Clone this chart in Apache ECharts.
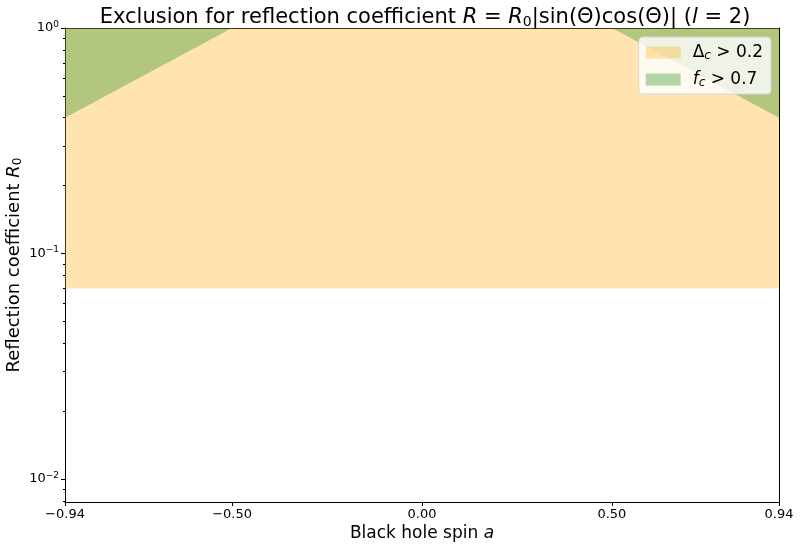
<!DOCTYPE html>
<html>
<head>
<meta charset="utf-8">
<script src="https://cdn.jsdelivr.net/npm/echarts@6/dist/echarts.min.js"></script>
<style>
  html, body { margin: 0; padding: 0; background: #fff; }
  #chart { width: 801px; height: 548px; }
</style>
</head>
<body>
<div id="chart"></div>
<script>
// axis ranges and ticks
const spinMin = -0.94;
const spinMax = 0.94;
const r0Min = 0.0079;
const r0Max = 1;
const spinTicks = [-0.94, -0.5, 0, 0.5, 0.94];
const r0MajorTicks = [0.01, 0.1, 1];
const r0MinorTicks = [0.008, 0.009, 0.02, 0.03, 0.04, 0.05, 0.06, 0.07, 0.08, 0.09,
  0.2, 0.3, 0.4, 0.5, 0.6, 0.7, 0.8, 0.9];
const r0TickLabels = { '0.01': '10{sup|−2}', '0.1': '10{sup|−1}', '1': '10{sup|0}' };

// excluded regions (lower boundary, filled up to R0 = 1)
const deltaSpin = [-0.94, 0.94];
const deltaR0 = [0.07, 0.07];
const fcSpin = [-0.94, -0.5, 0.5, 0.94];
const fcR0 = [0.4, 1, 1, 0.4];

const orange = 'rgba(255,165,0,0.3)';
const green = 'rgba(0,128,0,0.3)';
const font = 'DejaVu Sans';

const chart = echarts.init(document.getElementById('chart'));

const fmtSpin = v => (Math.abs(v) < 1e-9 ? '0.00' : v.toFixed(2)).replace('-', '\u2212');

const option = {
  animation: false,
  textStyle: { fontFamily: font },
  title: {
    text: 'Exclusion for reflection coefficient {i|R} = {i|R}{sub|0}|sin(Θ)cos(Θ)| ({i|l} = 2)',
    left: 420,
    textAlign: 'center',
    top: 1,
    textStyle: {
      fontFamily: font,
      fontSize: 21,
      fontWeight: 'normal',
      color: '#000',
      rich: {
        i: { fontFamily: font, fontSize: 21, fontStyle: 'italic', color: '#000' },
        sub: { fontFamily: font, fontSize: 14, color: '#000', padding: [9, 0, 0, 0] }
      }
    }
  },
  legend: {
    right: 30,
    top: 37,
    orient: 'vertical',
    itemWidth: 35,
    itemHeight: 12,
    itemGap: 8,
    padding: [6, 8, 5, 7],
    backgroundColor: 'rgba(255,255,255,0.8)',
    borderColor: '#d6d6d6',
    borderWidth: 1,
    borderRadius: 4,
    textStyle: {
      fontFamily: font,
      fontSize: 17,
      lineHeight: 15,
      color: '#000',
      padding: [0, 0, 0, 7],
      rich: {
        i: { fontFamily: font, fontSize: 17, lineHeight: 15, fontStyle: 'italic', color: '#000' },
        sub: { fontFamily: font, fontSize: 12, lineHeight: 10, fontStyle: 'italic', color: '#000', padding: [7, 0, 0, 0] }
      }
    },
    formatter: name => name === 'delta' ? 'Δ{sub|c} > 0.2' : '{i|f}{sub|c} > 0.7',
    data: [
      { name: 'delta', icon: 'rect', itemStyle: { color: orange } },
      { name: 'fc', icon: 'rect', itemStyle: { color: green } }
    ]
  },
  grid: { left: 65, right: 22, top: 28, bottom: 46, outerBoundsMode: 'none', containLabel: false },
  xAxis: [
    {
      type: 'value',
      min: spinMin,
      max: spinMax,
      name: 'Black hole spin {i|a}',
      nameLocation: 'middle',
      nameGap: 23,
      nameMoveOverlap: false,
      nameTextStyle: {
        fontFamily: font, fontSize: 17, color: '#000',
        rich: { i: { fontFamily: font, fontSize: 17, fontStyle: 'italic', color: '#000' } }
      },
      splitLine: { show: false },
      axisLine: { onZero: false, lineStyle: { color: '#000', width: 1 } },
      axisTick: { length: 4, lineStyle: { color: '#000' }, customValues: spinTicks },
      axisLabel: {
        customValues: spinTicks,
        formatter: fmtSpin,
        fontFamily: font, fontSize: 13, color: '#000', margin: 6
      }
    },
    {
      type: 'value',
      position: 'top',
      min: spinMin,
      max: spinMax,
      splitLine: { show: false },
      axisLine: { show: true, onZero: false, lineStyle: { color: '#000', width: 1 } },
      axisTick: { show: false },
      axisLabel: { show: false }
    }
  ],
  yAxis: [
    {
      type: 'log',
      min: r0Min,
      max: r0Max,
      name: 'Reflection coefficient {i|R}{sub|0}',
      nameLocation: 'middle',
      nameGap: 41,
      nameMoveOverlap: false,
      nameTextStyle: {
        fontFamily: font, fontSize: 18, color: '#000',
        rich: {
          i: { fontFamily: font, fontSize: 18, fontStyle: 'italic', color: '#000' },
          sub: { fontFamily: font, fontSize: 12, color: '#000', padding: [8, 0, 0, 0] }
        }
      },
      splitLine: { show: false },
      axisLine: { show: true, onZero: false, lineStyle: { color: '#000', width: 1 } },
      axisTick: { length: 4, lineStyle: { color: '#000' }, customValues: r0MajorTicks },
      axisLabel: {
        customValues: r0MajorTicks,
        formatter: v => r0TickLabels[String(+v.toPrecision(3))] || '',
        fontFamily: font, fontSize: 13, color: '#000', margin: 6,
        rich: {
          sup: { fontFamily: font, fontSize: 9, color: '#000', padding: [0, 0, 7, 0] }
        }
      }
    },
    {
      type: 'log',
      min: r0Min,
      max: r0Max,
      position: 'left',
      splitLine: { show: false },
      axisLine: { show: false, onZero: false },
      axisTick: { show: true, length: 2, lineStyle: { color: '#000' }, customValues: r0MinorTicks },
      axisLabel: { show: false }
    },
    {
      type: 'log',
      min: r0Min,
      max: r0Max,
      position: 'right',
      splitLine: { show: false },
      axisLine: { show: true, onZero: false, lineStyle: { color: '#000', width: 1 } },
      axisTick: { show: false },
      axisLabel: { show: false }
    }
  ],
  series: [
    {
      name: 'delta',
      type: 'line',
      showSymbol: false,
      lineStyle: { width: 0 },
      itemStyle: { color: orange },
      areaStyle: { origin: 'end', color: orange, opacity: 1 },
      data: deltaSpin.map((x, i) => [x, deltaR0[i]]),
      z: 1
    },
    {
      name: 'fc',
      type: 'line',
      showSymbol: false,
      lineStyle: { width: 0 },
      itemStyle: { color: green },
      areaStyle: { origin: 'end', color: green, opacity: 1 },
      data: fcSpin.map((x, i) => [x, fcR0[i]]),
      z: 2
    }
  ]
};

chart.setOption(option);
</script>
</body>
</html>
